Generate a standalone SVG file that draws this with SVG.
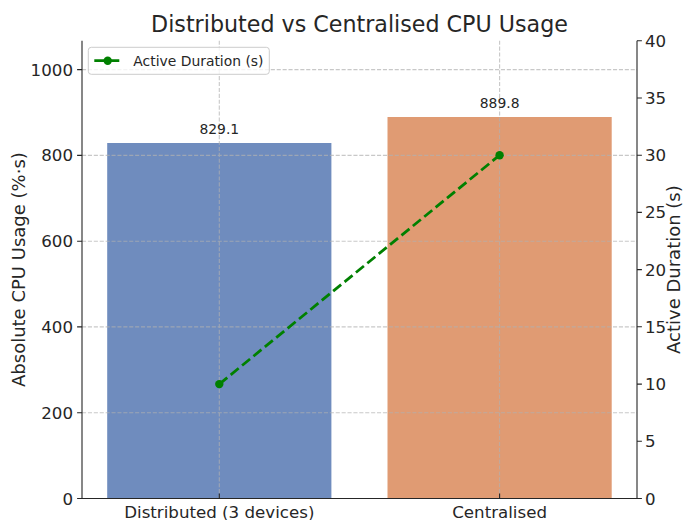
<svg xmlns="http://www.w3.org/2000/svg" width="684" height="520" viewBox="0 0 684 520">
<style>
text{font-family:"DejaVu Sans","Liberation Sans",sans-serif;fill:#262626}
.tick{font-size:16.67px}
.lab{font-size:18px}
.ann{font-size:13.9px;text-anchor:middle}
.grid{stroke:#b0b0b0;stroke-width:1.1;stroke-dasharray:4.1 1.8;opacity:0.7;fill:none}
.spine{stroke:#262626;stroke-width:1.1;fill:none}
</style>
<rect width="684" height="520" fill="#fff"/>
<text x="359.5" y="31.5" font-size="22.2" text-anchor="middle" fill="#333">Distributed vs Centralised CPU Usage</text>
<g id="bars">
<rect id="bar-distributed" x="107.2" y="143" width="224.2" height="355.5" fill="#6f8cbe"/>
<rect id="bar-centralised" x="387.5" y="117" width="224.2" height="381.5" fill="#e09b73"/>
</g>
<g id="grid">
<path class="grid" d="M82 412.7H637M82 326.9H637M82 241.2H637M82 155.4H637M82 69.6H637M219.3 40.7V498.5M499.6 40.7V498.5"/>
</g>
<g id="annotations">
<text class="ann" x="219.3" y="134.2">829.1</text>
<text class="ann" x="499.6" y="108.2">889.8</text>
</g>
<g id="connectors">
<path d="M219.3 384.1L499.6 155.2" stroke="#008000" stroke-width="2.78" stroke-dasharray="10.3 4.4" fill="none"/>
<circle cx="219.3" cy="384.1" r="4.2" fill="#008000"/>
<circle cx="499.6" cy="155.2" r="4.2" fill="#008000"/>
</g>
<g id="axes">
<path class="spine" d="M82 40.7V498.5H637V40.7"/>
<path class="spine" d="M82 498.5h-4.9M82 412.7h-4.9M82 326.9h-4.9M82 241.2h-4.9M82 155.4h-4.9M82 69.6h-4.9"/>
<path class="spine" d="M637 498.5h4.9M637 441.3h4.9M637 384.1h4.9M637 326.8h4.9M637 269.6h4.9M637 212.4h4.9M637 155.2h4.9M637 98h4.9M637 40.7h4.9"/>
<path class="spine" d="M219.3 498.5v-4.9M499.6 498.5v-4.9"/>
<g class="tick" text-anchor="end">
<text x="73" y="504.5">0</text>
<text x="73" y="418.7">200</text>
<text x="73" y="332.9">400</text>
<text x="73" y="247.2">600</text>
<text x="73" y="161.4">800</text>
<text x="73" y="75.6">1000</text>
</g>
<g class="tick" text-anchor="start">
<text x="645" y="504.5">0</text>
<text x="645" y="447.3">5</text>
<text x="645" y="390.1">10</text>
<text x="645" y="332.8">15</text>
<text x="645" y="275.6">20</text>
<text x="645" y="218.4">25</text>
<text x="645" y="161.2">30</text>
<text x="645" y="104">35</text>
<text x="645" y="46.7">40</text>
</g>
<g class="tick" text-anchor="middle">
<text x="219.3" y="517.5">Distributed (3 devices)</text>
<text x="499.6" y="517.5">Centralised</text>
</g>
<text class="lab" text-anchor="middle" transform="translate(25 269.6) rotate(-90)">Absolute CPU Usage (%·s)</text>
<text class="lab" text-anchor="middle" transform="translate(680 269.6) rotate(-90)">Active Duration (s)</text>
</g>
<g id="legend">
<rect x="88.3" y="47.3" width="181" height="27" rx="3" fill="#fff" fill-opacity="0.8" stroke="#cccccc" stroke-width="1"/>
<path d="M94.3 60.7H119.3" stroke="#008000" stroke-width="2.78" stroke-dasharray="10.3 4.4"/>
<circle cx="107.7" cy="60.7" r="4.2" fill="#008000"/>
<text x="133.3" y="65.7" font-size="13.9">Active Duration (s)</text>
</g>
</svg>
